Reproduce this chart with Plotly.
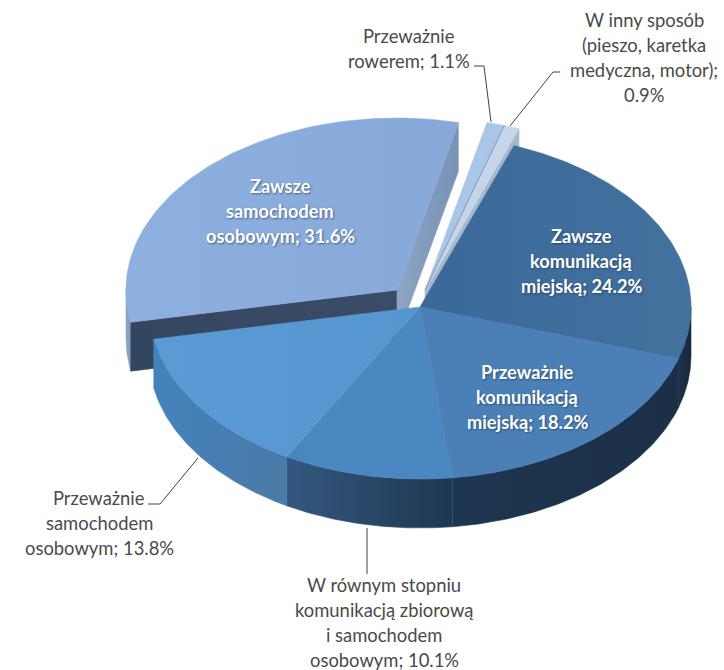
import numpy as np
import plotly.graph_objects as go

categories = [
    "Zawsze komunikacją miejską",
    "Przeważnie komunikacją miejską",
    "W równym stopniu komunikacją zbiorową i samochodem osobowym",
    "Przeważnie samochodem osobowym",
    "Zawsze samochodem osobowym",
    "Przeważnie rowerem",
    "W inny sposób (pieszo, karetka medyczna, motor)",
]
values = [24.2, 18.2, 10.1, 13.8, 31.6, 1.1, 0.9]
pull_offsets = [(0, 0), (0, 0), (0, 0), (0, 0), (-23, -17), (5, -17), (5, -17)]
top_colors = [
    ["#3a6899", "#44729f"], ["#4a80b5", "#4a80b5"], ["#4a86be", "#4b88c2"],
    ["#5b9bd5", "#5596d0"], ["#8db0e0", "#86a9da"], ["#a9c6e8", "#a9c6e8"], ["#c6d6ea", "#c6d6ea"],
]
wall_colors = [
    ["#1b3149", "#16283c"], ["#1f3650", "#1b3047"], ["#33587f", "#1f3650"],
    ["#4482bd", "#4a7aa6"], ["#8aa4c8", "#7f9cc4"], ["#a8b8cc", "#a8b8cc"], ["#a8b8cc", "#a8b8cc"],
]

# pie geometry in picture pixels
CX, CY, RX, RY, DEPTH = 420.0, 307.0, 271.0, 172.0, 49.0
START_DEG = 20.3

label_lines = [
    (["Zawsze", "komunikacją", "miejską; {v}%"], 581, 236, True),
    (["Przeważnie", "komunikacją", "miejską; {v}%"], 527, 372, True),
    (["W równym stopniu", "komunikacją zbiorową", "i samochodem", "osobowym; {v}%"], 384, 585, False),
    (["Przeważnie", "samochodem", "osobowym; {v}%"], 99, 498, False),
    (["Zawsze", "samochodem", "osobowym; {v}%"], 280, 186, True),
    (["Przeważnie", "rowerem; {v}%"], 409, 36, False),
    (["W inny sposób", "(pieszo, karetka", "medyczna, motor);", "{v}%"], 644, 20, False),
]
leaders = [
    ([474, 484, 491], [66, 66, 122]),
    ([560, 553, 510], [72, 72, 126]),
    ([148, 160, 198], [504, 504, 458]),
    ([367, 367], [528, 574]),
]

fractions = np.array(values) / sum(values)
edges = START_DEG + np.concatenate([[0], np.cumsum(fractions) * 360])
fig = go.Figure()


def rim(t0, t1, ox, oy, n=90):
    t = np.radians(np.linspace(t0, t1, n))
    return CX + ox + RX * np.sin(t), CY + oy - RY * np.cos(t)


def add_poly(x, y, colors):
    fig.add_trace(go.Scatter(
        x=list(x) + [x[0]], y=list(y) + [y[0]], mode="lines", fill="toself",
        line=dict(width=0.6, color=colors[0]),
        fillgradient=dict(type="horizontal", colorscale=[[0, colors[0]], [1, colors[1]]]),
        hoverinfo="skip", showlegend=False,
    ))


def add_top(i):
    ox, oy = pull_offsets[i]
    x, y = rim(edges[i], edges[i + 1], ox, oy)
    add_poly(np.r_[CX + ox, x], np.r_[CY + oy, y], top_colors[i])


def add_outer_wall(i, t0, t1):
    ox, oy = pull_offsets[i]
    x, y = rim(t0, t1, ox, oy)
    add_poly(np.r_[x, x[::-1]], np.r_[y, y[::-1] + DEPTH], wall_colors[i])


def add_side_wall(i, t, colors):
    ox, oy = pull_offsets[i]
    x, y = rim(t, t, ox, oy, n=1)
    ax, ay = CX + ox, CY + oy
    add_poly([ax, x[0], x[0], ax], [ay, y[0], y[0] + DEPTH, ay + DEPTH], colors)


# exploded slice first: its walls, then its top
big = 4
add_outer_wall(big, edges[big], min(edges[big] + 11, 270))
add_side_wall(big, edges[big], ["#34465f", "#3a4c66"])
add_side_wall(big, edges[big + 1], ["#8ea5c4", "#7792b5"])
add_top(big)

# two thin slices
add_side_wall(6, edges[7], wall_colors[6])
add_top(5)
add_top(6)
sx, sy = rim(edges[6], edges[6], pull_offsets[6][0], pull_offsets[6][1], n=1)
fig.add_trace(go.Scatter(
    x=[CX + pull_offsets[6][0], sx[0]], y=[CY + pull_offsets[6][1], sy[0]],
    mode="lines", line=dict(width=1, color="#8296b4"), hoverinfo="skip", showlegend=False,
))

# main body: outer walls then tops
add_outer_wall(0, 90, edges[1])
for i in (1, 2, 3):
    add_outer_wall(i, edges[i], edges[i + 1])
for i in (0, 1, 2, 3):
    add_top(i)

# leader lines
for lx, ly in leaders:
    fig.add_trace(go.Scatter(
        x=lx, y=ly, mode="lines", line=dict(width=1, color="#404040"),
        hoverinfo="skip", showlegend=False,
    ))

LINE_H = 25.0
annotations = []
for v, (lines, x, y0, inside) in zip(values, label_lines):
    for k, line in enumerate(lines):
        annotations.append(dict(
            x=x, y=y0 + k * LINE_H, xref="x", yref="y", showarrow=False,
            text=f"<b>{line.format(v=v)}</b>" if inside else line.format(v=v),
            xanchor="center", yanchor="middle",
            font=dict(family="Lato, Carlito, sans-serif", size=18.2 if inside else 18.4,
                      color="#ffffff" if inside else "#4a4a4a",
                      shadow="1px 1px 2px rgba(30,50,80,0.6)" if inside else "none"),
        ))

fig.update_layout(
    width=724, height=670, autosize=False,
    margin=dict(l=0, r=0, t=0, b=0),
    paper_bgcolor="white", plot_bgcolor="white",
    xaxis=dict(range=[0, 724], visible=False, fixedrange=True),
    yaxis=dict(range=[670, 0], visible=False, fixedrange=True),
    annotations=annotations,
    showlegend=False,
)
fig.write_html(
    "out.html",
    config={"displayModeBar": False},
    post_script="document.body.style.margin='0';document.body.style.overflow='hidden';",
)
